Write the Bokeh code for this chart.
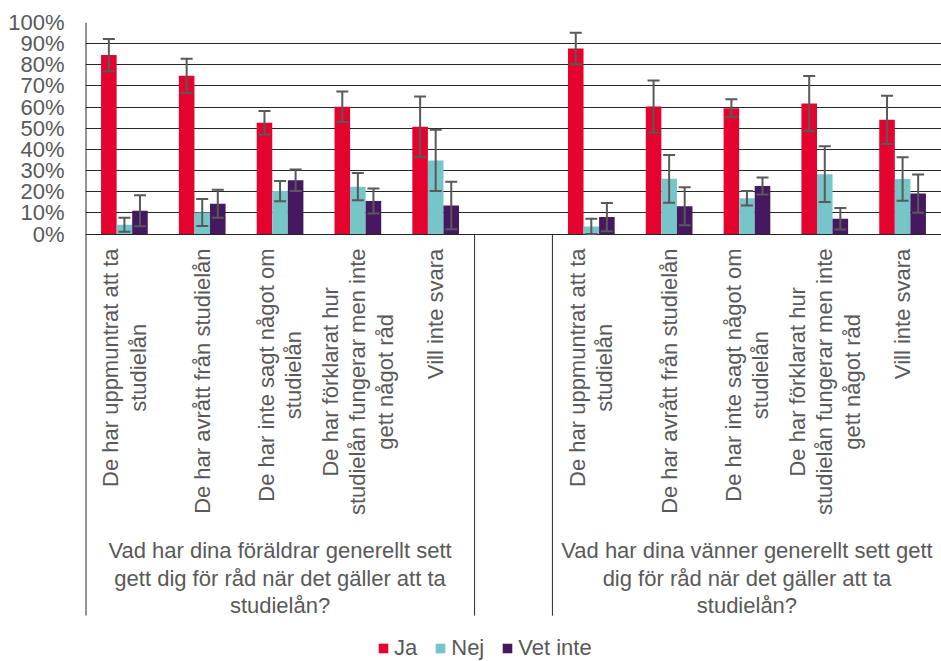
from bokeh.plotting import figure
from bokeh.models import (FactorRange, Range1d, FixedTicker, PrintfTickFormatter,
                          ColumnDataSource, Legend, LegendItem)
from bokeh.transform import dodge
from bokeh.core.properties import value
from bokeh.embed import file_html
from bokeh.resources import INLINE
import math

# ---------------- data ----------------
groups = [
    "Vad har dina föräldrar generellt sett\ngett dig för råd när det gäller att ta\nstudielån?",
    "Vad har dina vänner generellt sett gett\ndig för råd när det gäller att ta\nstudielån?",
]
categories = [
    "De har uppmuntrat att ta\nstudielån",
    "De har avrått från studielån",
    "De har inte sagt något om\nstudielån",
    "De har förklarat hur\nstudielån fungerar men inte\ngett något råd",
    "Vill inte svara",
]
series_names = ["Ja", "Nej", "Vet inte"]

ja = [84.6, 74.8, 52.6, 60.2, 50.7, 87.7, 60.3, 59.5, 61.7, 54.0]
ja_err = [7.6, 8.1, 5.6, 7.2, 14.3, 7.4, 12.3, 4.2, 13.0, 11.4]
nej = [4.4, 10.2, 20.3, 22.4, 34.8, 3.6, 26.1, 16.9, 28.3, 26.0]
nej_err = [3.3, 6.4, 4.8, 6.4, 14.5, 3.6, 11.3, 3.4, 13.2, 10.3]
vet = [11.0, 14.3, 25.4, 15.6, 13.5, 8.0, 13.1, 22.7, 7.2, 19.1]
vet_err = [7.3, 6.6, 5.1, 5.9, 11.2, 6.7, 9.0, 4.0, 5.1, 9.0]

y_ticks = list(range(0, 101, 10))

# ---------------- style ----------------
RED = "#E4032E"
CYAN = "#76C5C8"
PURPLE = "#45185F"
ERR = "#595959"
TEXT = "#595959"
GRID = "#262626"
FONT = "Liberation Sans"
FS = 22
LH = 1.09

factors = [(g, c) for g in groups for c in categories]

src = ColumnDataSource(dict(
    x=factors,
    ja=ja, ja_lo=[v - e for v, e in zip(ja, ja_err)], ja_hi=[v + e for v, e in zip(ja, ja_err)],
    nej=nej, nej_lo=[v - e for v, e in zip(nej, nej_err)], nej_hi=[v + e for v, e in zip(nej, nej_err)],
    vet=vet, vet_lo=[v - e for v, e in zip(vet, vet_err)], vet_hi=[v + e for v, e in zip(vet, vet_err)],
))

Y0 = -202.1      # bottom of the frame (legend lives inside the frame)
YL = -180.4      # bottom end of the vertical separator lines
xr = FactorRange(*factors, group_padding=1.0, range_padding=0, factor_padding=0)
p = figure(width=941, height=661, x_range=xr, y_range=Range1d(Y0, 100),
           output_backend="svg", toolbar_location=None,
           min_border_left=85, min_border_right=0, min_border_top=22, min_border_bottom=0)
p.outline_line_color = None
p.background_fill_color = "white"
p.border_fill_color = "white"

p.xaxis.visible = False
p.xgrid.visible = False
p.ygrid.ticker = FixedTicker(ticks=y_ticks)
p.ygrid.grid_line_color = GRID
p.ygrid.grid_line_width = 1

ya = p.yaxis[0]
ya.ticker = FixedTicker(ticks=y_ticks)
ya.formatter = PrintfTickFormatter(format="%d%%")
ya.major_label_text_font_size = f"{FS}px"
ya.major_label_text_color = TEXT
ya.major_label_text_font = FONT
ya.major_tick_line_color = None
ya.minor_tick_line_color = None
ya.major_label_standoff = 15
ya.axis_line_color = None

# ---------------- bars + error bars ----------------
renderers = []
for key, off, col in [("ja", -0.2, RED), ("nej", 0.0, CYAN), ("vet", 0.2, PURPLE)]:
    xd = dodge("x", off, range=xr)
    r = p.vbar(x=xd, top=key, bottom=0, width=0.2, source=src,
               fill_color=col, line_color=None)
    renderers.append(r)
    p.segment(x0=xd, y0=key + "_lo", x1=xd, y1=key + "_hi", source=src,
              line_color=ERR, line_width=2)
    for end in ("_lo", "_hi"):
        p.scatter(x=xd, y=key + end, source=src, marker="dash", size=12,
                  line_color=ERR, line_width=2)

# ---------------- separator lines ----------------
n = len(categories)
p.segment(x0=dodge("x", -0.5, range=xr), y0=100, x1=dodge("x", -0.5, range=xr), y1=YL,
          source=ColumnDataSource(dict(x=[factors[0]])), line_color=GRID, line_width=2)
p.segment(x0=dodge("x", 0.5, range=xr), y0=0, x1=dodge("x", 0.5, range=xr), y1=YL,
          source=ColumnDataSource(dict(x=[factors[n - 1]])),
          line_color=GRID, line_width=1)
p.segment(x0=dodge("x", -0.5, range=xr), y0=0, x1=dodge("x", -0.5, range=xr), y1=YL,
          source=ColumnDataSource(dict(x=[factors[n]])),
          line_color=GRID, line_width=1)

# ---------------- category labels (rotated) ----------------
W = {' ': 278, 'a': 556, 'b': 556, 'c': 500, 'd': 556, 'e': 556, 'f': 278, 'g': 556,
     'h': 556, 'i': 222, 'j': 222, 'k': 500, 'l': 222, 'm': 833, 'n': 556, 'o': 556,
     'p': 556, 'q': 556, 'r': 333, 's': 500, 't': 278, 'u': 556, 'v': 500, 'w': 722,
     'x': 500, 'y': 500, 'z': 500, 'å': 556, 'ä': 556, 'ö': 556, 'D': 722, 'V': 667, '?': 556}


def text_w(s):
    return max(sum(W.get(ch, 556) for ch in line) for line in s.split("\n")) * FS / 1000.0


lab_src = ColumnDataSource(dict(
    x=factors,
    text=[c for g in groups for c in categories],
    yo=[14.5 + text_w(c) / 2 for g in groups for c in categories],
))
p.text(x="x", y=0, text="text", y_offset="yo", angle=math.pi / 2, source=lab_src,
       text_align="center", text_baseline="middle", text_line_height=LH,
       text_font=value(FONT), text_font_size=f"{FS}px", text_color=TEXT)

grp_src = ColumnDataSource(dict(x=[factors[2], factors[7]], text=groups))
p.text(x="x", y=0, text="text", y_offset=344.0, source=grp_src,
       text_align="center", text_baseline="middle", text_line_height=LH,
       text_font=value(FONT), text_font_size=f"{FS}px", text_color=TEXT)

# ---------------- legend ----------------
legend = Legend(items=[LegendItem(label=nm, renderers=[r]) for nm, r in zip(series_names, renderers)],
                orientation="horizontal", location=(292, 0),
                glyph_width=12, glyph_height=12, label_standoff=5, spacing=17,
                padding=0, margin=0, border_line_color=None, background_fill_alpha=0,
                label_text_font_size=f"{FS}px", label_text_color=TEXT,
                label_text_font=FONT)
p.add_layout(legend)

open("out.html", "w").write(file_html(p, INLINE))
